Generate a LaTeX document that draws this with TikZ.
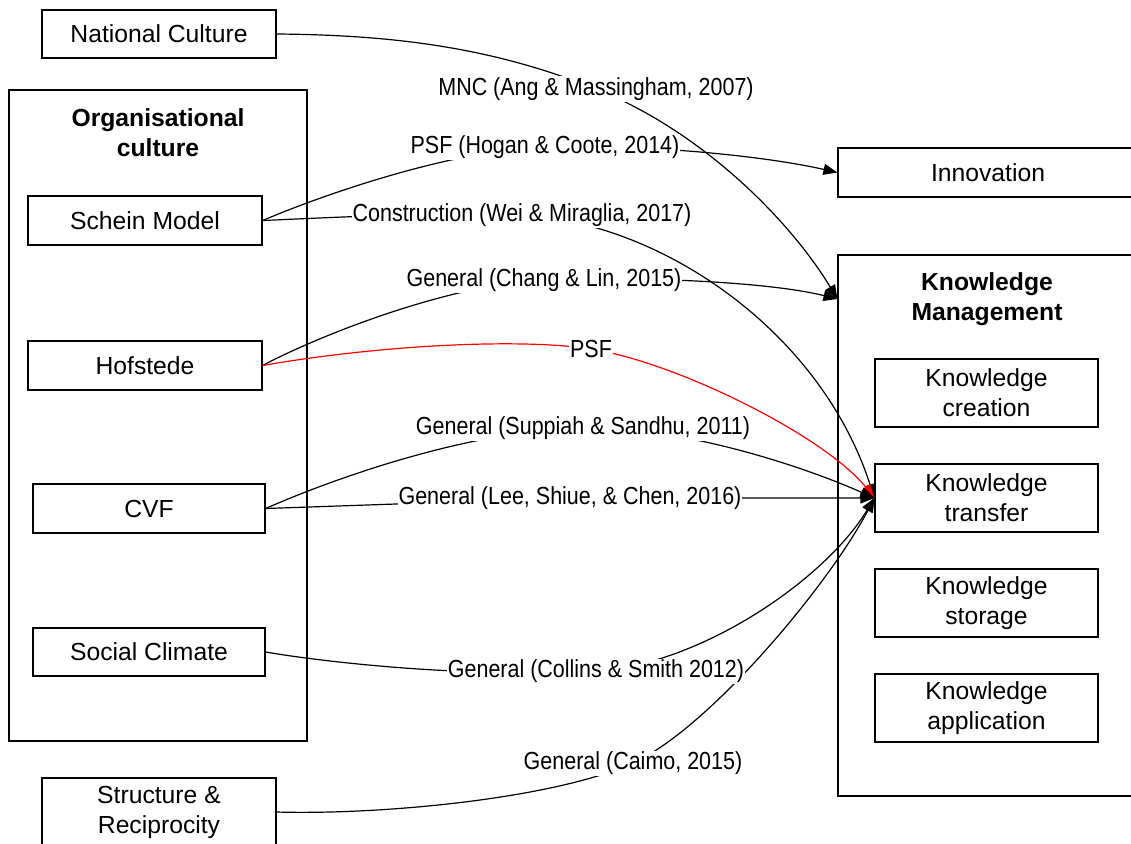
\documentclass[tikz,border=0pt]{standalone}
\usepackage{fontspec}
\setmainfont{Liberation Sans}
\newfontfamily\lblfont{Liberation Sans}[FakeStretch=0.87]
\usepackage{tikz}
\usetikzlibrary{arrows.meta}

\tikzset{
    box/.style={draw, line width=1.2pt, inner sep=0pt, align=center,
        font=\fontsize{24.7}{30}\selectfont},
    title/.style={align=center, font=\fontsize{24.7}{30}\selectfont\bfseries},
    lbl/.style={fill=white, inner sep=1pt, font=\lblfont\fontsize{24.7}{30}\selectfont},
    conn/.style={line width=1.2pt, -{Triangle[length=14pt,width=11pt]}}
}

\begin{document}
\begin{tikzpicture}[x=1pt, y=-1pt]
            \clip (0,0) rectangle (1131,843);

            % === Containers ===
            \node[box, minimum width=298, minimum height=651] (orgcult) at (158,415.5) {};
            \node[title] (orgtitle) at (158,133) {Organisational\\culture};
            \node[box, minimum width=300, minimum height=541] (km) at (988,525.5) {};
            \node[title] (kmtitle) at (987,299) {Knowledge\\Management};
            \coordinate (kmin) at (km.west |- kmtitle);

            % === Left boxes ===
            \node[box, minimum width=234, minimum height=48] (natcult) at (159,34) {National Culture};
            \node[box, minimum width=234, minimum height=49] (schein) at (145,220.5) {Schein Model};
            \node[box, minimum width=234, minimum height=49] (hofstede) at (145,365.5) {Hofstede};
            \node[box, minimum width=232, minimum height=49] (cvf) at (149,508.5) {CVF};
            \node[box, minimum width=232, minimum height=48] (social) at (149,652) {Social Climate};
            \node[box, minimum width=234, minimum height=68] (structure) at (159,812) {Structure \&\\Reciprocity};

            % === Right boxes ===
            \node[box, minimum width=300, minimum height=49] (innov) at (988,172.5) {Innovation};
            \node[box, minimum width=223, minimum height=68] (kcreate) at (986.5,393) {Knowledge\\creation};
            \node[box, minimum width=223, minimum height=68] (ktransfer) at (986.5,498) {Knowledge\\transfer};
            \node[box, minimum width=223, minimum height=68] (kstore) at (986.5,603) {Knowledge\\storage};
            \node[box, minimum width=223, minimum height=68] (kapply) at (986.5,708) {Knowledge\\application};

            % === Label positions ===
            \coordinate (mncpos) at (596,89);
            \coordinate (hcpos) at (545,147);
            \coordinate (wmpos) at (522,215);
            \coordinate (clpos) at (544,280);
            \coordinate (psfpos) at (591,349);
            \coordinate (sspos) at (583,428);
            \coordinate (leepos) at (570,498);
            \coordinate (cspos) at (596,671);
            \coordinate (capos) at (633,763);

            % === Connectors ===
            \draw[conn] (natcult.east) .. controls (400,35) and (496,49) .. (mncpos)
                .. controls (706,133) and (793,225) .. (kmin);
            \draw[conn] (schein.east) .. controls (320,196) and (450,150) .. (hcpos)
                .. controls (640,144) and (760,155) .. (innov.west);
            \draw[conn] (schein.east) .. controls (300,219) and (450,211) .. (wmpos)
                .. controls (660,222) and (820,330) .. (ktransfer.west);
            \draw[conn] (hofstede.east) .. controls (320,335) and (450,284) .. (clpos)
                .. controls (640,276) and (770,282) .. (kmin);
            \draw[conn, red] (hofstede.east) .. controls (380,345) and (520,338) .. (psfpos)
                .. controls (676,362) and (825,436) .. (ktransfer.west);
            \draw[conn] (cvf.east) .. controls (335,478) and (470,430) .. (sspos)
                .. controls (680,426) and (800,465) .. (ktransfer.west);
            \draw[conn] (cvf.east) -- (leepos) -- (ktransfer.west);
            \draw[conn] (social.east) .. controls (330,663) and (470,678) .. (cspos)
                .. controls (700,665) and (825,580) .. (ktransfer.west);
            \draw[conn] (structure.east) .. controls (380,815) and (553,799) .. (capos)
                .. controls (710,728) and (830,583) .. (ktransfer.west);

            % === Labels ===
            \node[lbl] (mnc) at (mncpos) {MNC (Ang \& Massingham, 2007)};
            \node[lbl] (hogan) at (hcpos) {PSF (Hogan \& Coote, 2014)};
            \node[lbl] (wei) at (wmpos) {Construction (Wei \& Miraglia, 2017)};
            \node[lbl] (chang) at (clpos) {General (Chang \& Lin, 2015)};
            \node[lbl] (psf) at (psfpos) {PSF};
            \node[lbl] (suppiah) at (sspos) {General (Suppiah \& Sandhu, 2011)};
            \node[lbl] (lee) at (leepos) {General (Lee, Shiue, \& Chen, 2016)};
            \node[lbl] (collins) at (cspos) {General (Collins \& Smith 2012)};
            \node[lbl] (caimo) at (capos) {General (Caimo, 2015)};
\end{tikzpicture}
\end{document}
